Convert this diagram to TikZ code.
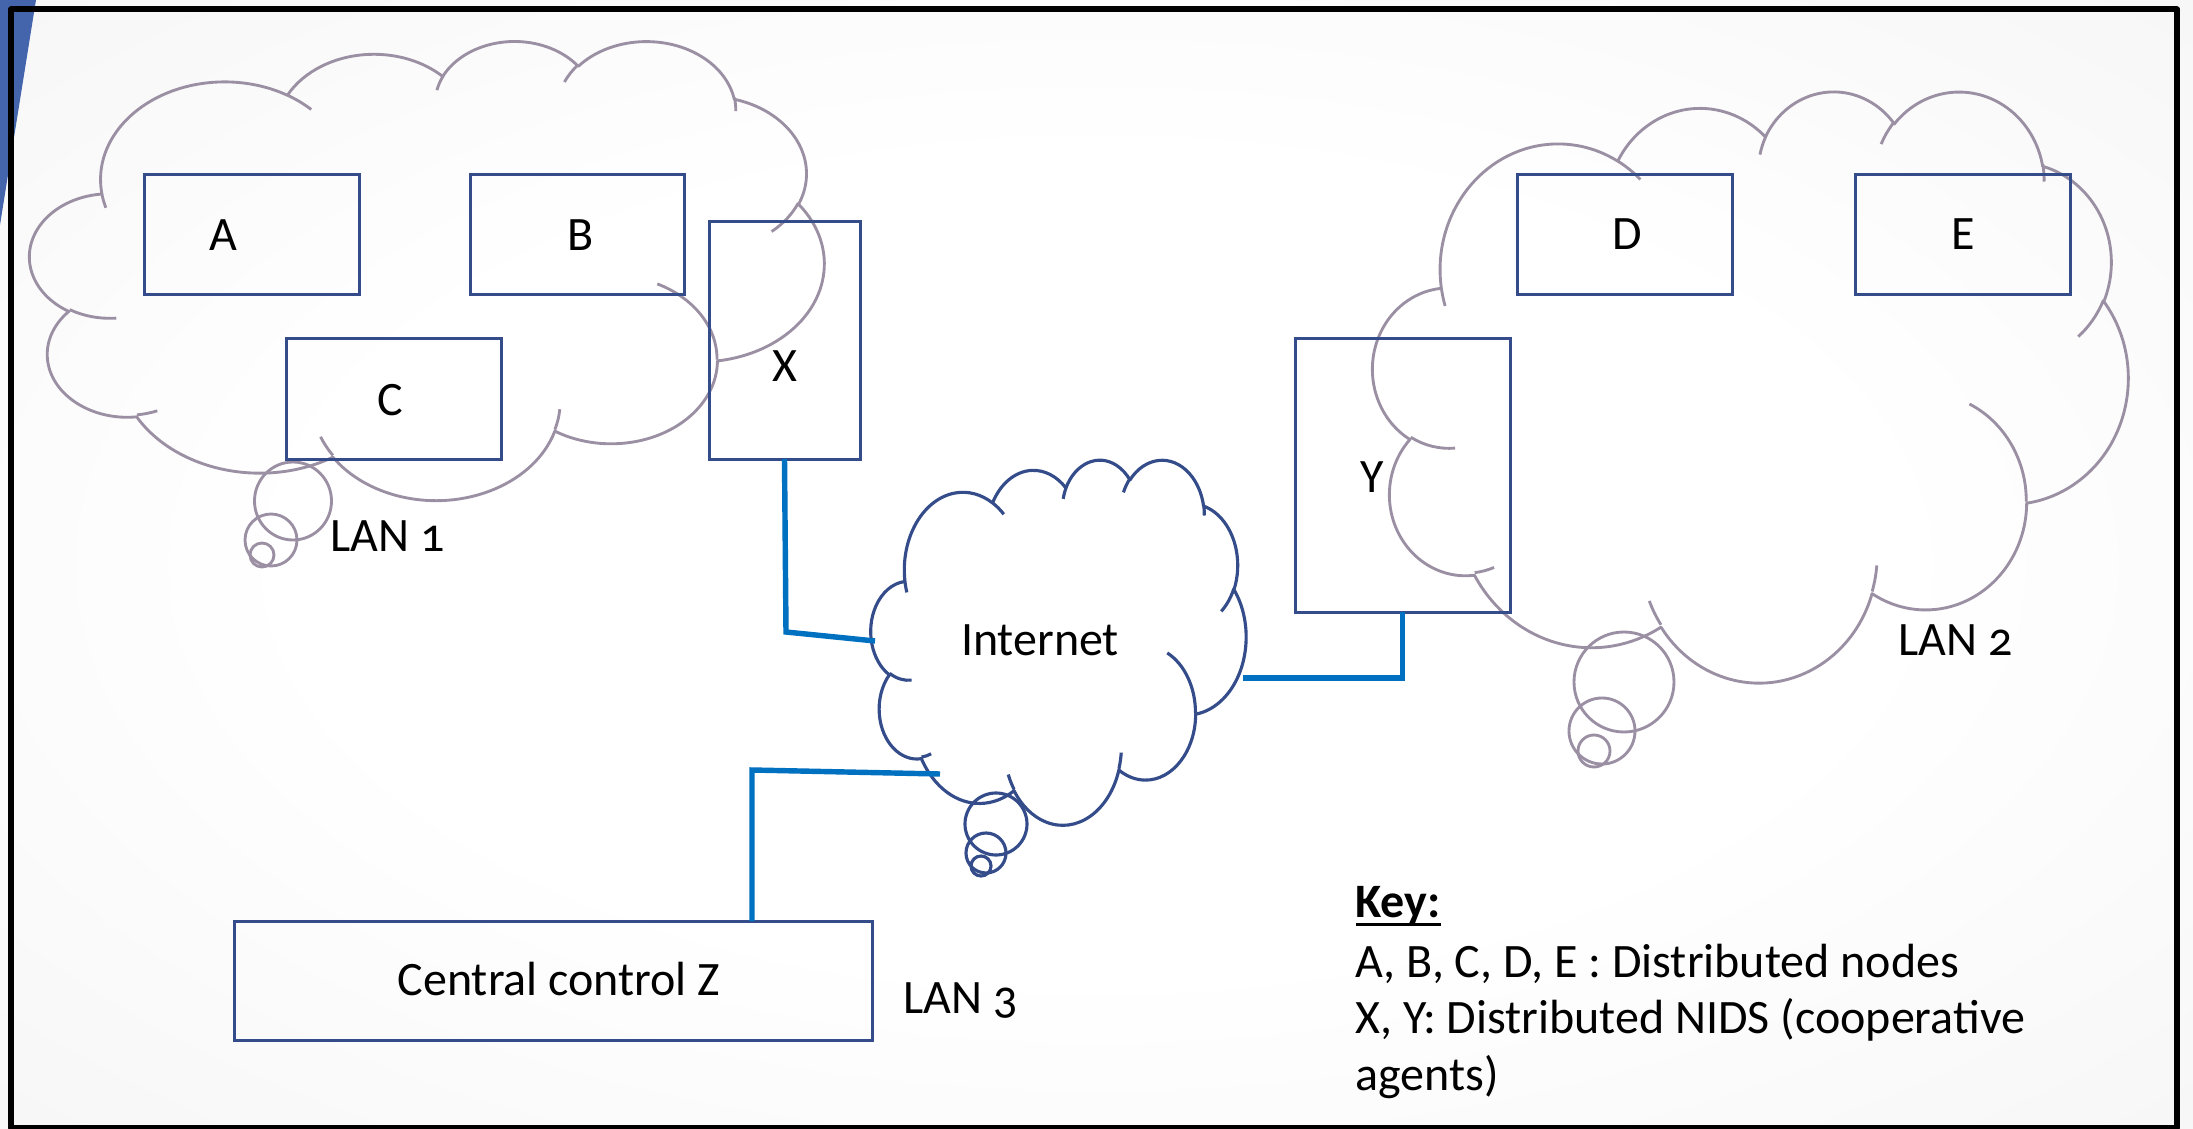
\documentclass[tikz,border=0pt]{standalone}
\usepackage{fontspec}
\setmainfont{Carlito}[Numbers=OldStyle]
\usetikzlibrary{calc}
\definecolor{boxblue}{RGB}{52,76,138}
\definecolor{cloudgray}{RGB}{155,144,163}
\definecolor{linkblue}{RGB}{0,112,192}
\definecolor{triblue}{RGB}{68,100,172}
\pgfdeclareradialshading{bgshade}{\pgfpoint{0bp}{0bp}}{color(0bp)=(white); color(18bp)=(white); color(72bp)=(black!10)}

% arcTo with DrawingML (visual) angles
\newcommand\carc[4]{%
  \pgfmathsetmacro\cA{atan2((#1)*sin(#3),(#2)*cos(#3))}%
  \pgfmathsetmacro\cB{atan2((#1)*sin((#3)+(#4)),(#2)*cos((#3)+(#4)))}%
  \pgfmathsetmacro\cD{mod(\cB-\cA+720,360)}%
  \pgfmathsetmacro\cB{\cA+\cD}%
  \pgfpatharc{\cA}{\cB}{#1pt and #2pt}%
}
% cloud shape: #1,#2 top-left (px), #3 width, #4 height, #5 colour, #6 line width
\newcommand\drawcloud[6]{%
  \begin{scope}[shift={(#1,-#2)}, xscale={#3*0.35/432}, yscale={-#4*0.35/432}]
    \pgfsetlinewidth{#6}%
    \pgfsetstrokecolor{#5}%
    \pgfsetroundjoin
    \pgfpathmoveto{\pgfpoint{39pt}{143.7pt}}%
    \carc{67.53}{91.90}{-190.4875}{123.7805}%
    \carc{53.33}{72.67}{-144.1024}{89.9452}%
    \carc{43.65}{59.45}{-145.8079}{99.7230}%
    \carc{48.57}{65.95}{-130.9861}{117.2417}%
    \carc{53.33}{72.73}{-78.7089}{109.0269}%
    \carc{67.75}{92.20}{-46.2673}{130.2690}%
    \carc{57.85}{78.67}{0.6250}{114.0333}%
    \carc{67.52}{92.15}{22.4516}{115.1726}%
    \carc{77.20}{105.43}{66.2426}{75.7110}%
    \carc{43.60}{59.18}{-274.9421}{146.7356}%
    \carc{43.45}{59.45}{-246.8285}{152.5189}%
    \pgfpathclose
    \pgfpathmoveto{\pgfpoint{46.93pt}{261.77pt}}\carc{43.45}{59.45}{86.7420}{26.4295}%
    \pgfpathmoveto{\pgfpoint{69.28pt}{348.99pt}}\carc{43.60}{59.18}{73.6105}{11.4475}%
    \pgfpathmoveto{\pgfpoint{164.78pt}{390.90pt}}\carc{67.52}{92.15}{137.6242}{14.0811}%
    \pgfpathmoveto{\pgfpoint{288.27pt}{347.51pt}}\carc{67.52}{92.15}{6.4533}{15.9984}%
    \pgfpathmoveto{\pgfpoint{341.29pt}{229.54pt}}\carc{57.85}{78.67}{-70.2924}{70.9174}%
    \pgfpathmoveto{\pgfpoint{417.98pt}{153.54pt}}\carc{53.33}{72.73}{30.3180}{27.7515}%
    \pgfpathmoveto{\pgfpoint{383.24pt}{54.26pt}}\carc{48.57}{65.95}{-13.7443}{14.8589}%
    \pgfpathmoveto{\pgfpoint{290.78pt}{39.52pt}}\carc{48.57}{65.95}{-149.1815}{18.1954}%
    \pgfpathmoveto{\pgfpoint{221.41pt}{47.20pt}}\carc{43.65}{59.45}{-163.4943}{17.6864}%
    \pgfpathmoveto{\pgfpoint{140.00pt}{51.92pt}}\carc{67.53}{91.90}{-66.7070}{12.3194}%
    \pgfpathmoveto{\pgfpoint{41.27pt}{157.89pt}}\carc{67.53}{91.90}{157.6544}{11.8582}%
    \pgfusepath{stroke}%
  \end{scope}}

\newcommand\boxnode[5]{%
  \node[boxst, minimum width={(#4-#2)*0.35pt}, minimum height={(#5-#3)*0.35pt}]
    (#1) at ({(#2+#4)/2},{-(#3+#5)/2}) {};}

\tikzset{
  boxst/.style={draw=boxblue, line width=1.05pt, inner sep=0pt, outer sep=0pt, rectangle},
  link/.style={draw=linkblue, line width=1.9pt},
  lbl/.style={font=\fontsize{16.8}{20}\selectfont, inner sep=0pt, anchor=base},
  lblw/.style={lbl, anchor=base west},
  tailA/.style={draw=cloudgray, line width=1pt},
  tailB/.style={draw=boxblue, line width=1.1pt},
}
\newcommand\ulkey[1]{\setbox0\hbox{#1}\rlap{\rule[-3pt]{\wd0}{0.9pt}}\box0}

\begin{document}
\begin{tikzpicture}[x=0.35pt, y=0.35pt]
\useasboundingbox (0,0) rectangle (2193,-1129);
\shade[shading=bgshade] (0,0) rectangle (2193,-1129);
\fill[triblue] (0,0) -- (36,0) -- (0,-225) -- cycle;
\draw[line width=2.1pt, line join=round] (11,-9.5) rectangle (2177,-1128);

% clouds
\drawcloud{30}{40}{794}{459}{cloudgray}{1pt}
\drawcloud{1373}{90}{755}{591}{cloudgray}{1pt}
\drawcloud{871}{459}{375}{365}{boxblue}{1.1pt}
% cloud tails
\draw[tailA] (293,-501) ellipse [x radius=38.5, y radius=39];
\draw[tailA] (271,-540) ellipse [x radius=26, y radius=26];
\draw[tailA] (262,-555) ellipse [x radius=12, y radius=12];
\draw[tailA] (1624,-682) ellipse [x radius=50, y radius=50];
\draw[tailA] (1602,-731) ellipse [x radius=33, y radius=33];
\draw[tailA] (1594,-751) ellipse [x radius=16, y radius=16];
\draw[tailB] (996,-824) ellipse [x radius=31, y radius=31];
\draw[tailB] (986,-853) ellipse [x radius=20, y radius=20];
\draw[tailB] (981,-866) ellipse [x radius=10, y radius=10];

% boxes
\boxnode{A}{144}{175}{359}{295}
\boxnode{B}{470}{175}{684}{295}
\boxnode{C}{286}{339}{501}{459}
\boxnode{X}{709}{222}{860}{459}
\boxnode{D}{1517}{175}{1732}{295}
\boxnode{E}{1855}{175}{2070}{295}
\boxnode{Y}{1295}{339}{1510}{612}
\boxnode{Z}{234}{921}{872}{1040}

% labels
\node[lbl] (tA) at (223,-251) {A};
\node[lbl] (tB) at (581,-251) {B};
\node[lbl] (tC) at (390,-415) {C};
\node[lbl] (tX) at (785,-381) {X};
\node[lbl] (tD) at (1627,-250) {D};
\node[lbl] (tE) at (1963,-250) {E};
\node[lbl] (tY) at (1372,-492) {Y};
\node[lbl] (tI) at (1040,-655) {Internet};
\node[lbl] (tZ) at (559,-995) {Central control Z};
\node[lblw] (l1) at (330,-551) {LAN 1};
\node[lblw] (l2) at (1898,-655) {LAN 2};
\node[lblw] (l3) at (903,-1013) {LAN 3};

% connectors
\coordinate (inW) at (875,-641);
\coordinate (inE) at (1243,-678);
\coordinate (inSW) at (940,-774);
\draw[link] (X.south) -- (786,-632) -- (inW);
\draw[link] (Y.south) |- (inE);
\draw[link] ($(Z.north west)+(518,0)$) -- (752,-770) -- (inSW);

% key
\node[lblw] (k0) at (1355,-917) {\ulkey{\bfseries Key:}};
\node[lblw] (k1) at (1355,-977) {A, B, C, D, E : Distributed nodes};
\node[lblw] (k2) at (1355,-1033) {X, Y: Distributed NIDS (cooperative};
\node[lblw] (k3) at (1355,-1090) {agents)};
\end{tikzpicture}
\end{document}
